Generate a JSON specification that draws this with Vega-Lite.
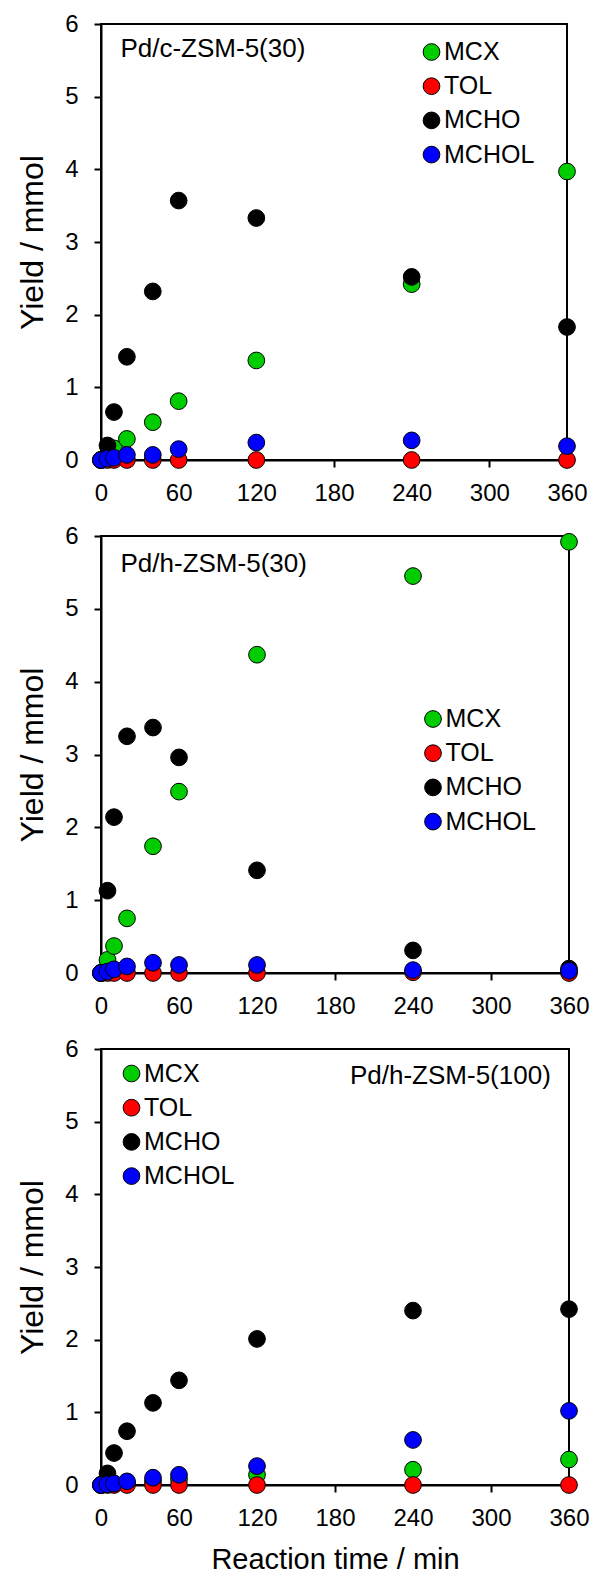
{
  "$schema": "https://vega.github.io/schema/vega-lite/v6.json",
  "padding": {"left": 15, "top": 11, "right": 4, "bottom": 4},
  "background": "white",
  "datasets": {
    "d": [
      {"panel": "A", "series": "MCX", "time": 0, "value": 0},
      {"panel": "A", "series": "MCX", "time": 5, "value": 0.05},
      {"panel": "A", "series": "MCX", "time": 10, "value": 0.16},
      {"panel": "A", "series": "MCX", "time": 20, "value": 0.29},
      {"panel": "A", "series": "MCX", "time": 40, "value": 0.52},
      {"panel": "A", "series": "MCX", "time": 60, "value": 0.81},
      {"panel": "A", "series": "MCX", "time": 120, "value": 1.37},
      {"panel": "A", "series": "MCX", "time": 240, "value": 2.42},
      {"panel": "A", "series": "MCX", "time": 360, "value": 3.97},
      {"panel": "A", "series": "TOL", "time": 0, "value": 0},
      {"panel": "A", "series": "TOL", "time": 5, "value": 0},
      {"panel": "A", "series": "TOL", "time": 10, "value": 0},
      {"panel": "A", "series": "TOL", "time": 20, "value": 0},
      {"panel": "A", "series": "TOL", "time": 40, "value": 0},
      {"panel": "A", "series": "TOL", "time": 60, "value": 0},
      {"panel": "A", "series": "TOL", "time": 120, "value": 0},
      {"panel": "A", "series": "TOL", "time": 240, "value": 0},
      {"panel": "A", "series": "TOL", "time": 360, "value": 0},
      {"panel": "A", "series": "MCHO", "time": 0, "value": 0},
      {"panel": "A", "series": "MCHO", "time": 5, "value": 0.2},
      {"panel": "A", "series": "MCHO", "time": 10, "value": 0.66},
      {"panel": "A", "series": "MCHO", "time": 20, "value": 1.42},
      {"panel": "A", "series": "MCHO", "time": 40, "value": 2.32},
      {"panel": "A", "series": "MCHO", "time": 60, "value": 3.57},
      {"panel": "A", "series": "MCHO", "time": 120, "value": 3.33},
      {"panel": "A", "series": "MCHO", "time": 240, "value": 2.52},
      {"panel": "A", "series": "MCHO", "time": 360, "value": 1.83},
      {"panel": "A", "series": "MCHOL", "time": 0, "value": 0},
      {"panel": "A", "series": "MCHOL", "time": 5, "value": 0.02},
      {"panel": "A", "series": "MCHOL", "time": 10, "value": 0.03},
      {"panel": "A", "series": "MCHOL", "time": 20, "value": 0.07},
      {"panel": "A", "series": "MCHOL", "time": 40, "value": 0.07},
      {"panel": "A", "series": "MCHOL", "time": 60, "value": 0.15},
      {"panel": "A", "series": "MCHOL", "time": 120, "value": 0.24},
      {"panel": "A", "series": "MCHOL", "time": 240, "value": 0.27},
      {"panel": "A", "series": "MCHOL", "time": 360, "value": 0.19},

      {"panel": "B", "series": "MCX", "time": 0, "value": 0},
      {"panel": "B", "series": "MCX", "time": 5, "value": 0.18},
      {"panel": "B", "series": "MCX", "time": 10, "value": 0.37},
      {"panel": "B", "series": "MCX", "time": 20, "value": 0.75},
      {"panel": "B", "series": "MCX", "time": 40, "value": 1.74},
      {"panel": "B", "series": "MCX", "time": 60, "value": 2.49},
      {"panel": "B", "series": "MCX", "time": 120, "value": 4.37},
      {"panel": "B", "series": "MCX", "time": 240, "value": 5.45},
      {"panel": "B", "series": "MCX", "time": 360, "value": 5.92},
      {"panel": "B", "series": "TOL", "time": 0, "value": 0},
      {"panel": "B", "series": "TOL", "time": 5, "value": 0},
      {"panel": "B", "series": "TOL", "time": 10, "value": 0},
      {"panel": "B", "series": "TOL", "time": 20, "value": 0},
      {"panel": "B", "series": "TOL", "time": 40, "value": 0},
      {"panel": "B", "series": "TOL", "time": 60, "value": 0},
      {"panel": "B", "series": "TOL", "time": 120, "value": 0},
      {"panel": "B", "series": "TOL", "time": 240, "value": 0.01},
      {"panel": "B", "series": "TOL", "time": 360, "value": 0},
      {"panel": "B", "series": "MCHO", "time": 0, "value": 0},
      {"panel": "B", "series": "MCHO", "time": 5, "value": 1.13},
      {"panel": "B", "series": "MCHO", "time": 10, "value": 2.14},
      {"panel": "B", "series": "MCHO", "time": 20, "value": 3.25},
      {"panel": "B", "series": "MCHO", "time": 40, "value": 3.37},
      {"panel": "B", "series": "MCHO", "time": 60, "value": 2.96},
      {"panel": "B", "series": "MCHO", "time": 120, "value": 1.41},
      {"panel": "B", "series": "MCHO", "time": 240, "value": 0.31},
      {"panel": "B", "series": "MCHO", "time": 360, "value": 0.06},
      {"panel": "B", "series": "MCHOL", "time": 0, "value": 0},
      {"panel": "B", "series": "MCHOL", "time": 5, "value": 0.02},
      {"panel": "B", "series": "MCHOL", "time": 10, "value": 0.05},
      {"panel": "B", "series": "MCHOL", "time": 20, "value": 0.09},
      {"panel": "B", "series": "MCHOL", "time": 40, "value": 0.14},
      {"panel": "B", "series": "MCHOL", "time": 60, "value": 0.11},
      {"panel": "B", "series": "MCHOL", "time": 120, "value": 0.11},
      {"panel": "B", "series": "MCHOL", "time": 240, "value": 0.04},
      {"panel": "B", "series": "MCHOL", "time": 360, "value": 0.03},

      {"panel": "C", "series": "MCX", "time": 0, "value": 0},
      {"panel": "C", "series": "MCX", "time": 5, "value": 0.01},
      {"panel": "C", "series": "MCX", "time": 10, "value": 0.02},
      {"panel": "C", "series": "MCX", "time": 20, "value": 0.03},
      {"panel": "C", "series": "MCX", "time": 40, "value": 0.05},
      {"panel": "C", "series": "MCX", "time": 60, "value": 0.08},
      {"panel": "C", "series": "MCX", "time": 120, "value": 0.14},
      {"panel": "C", "series": "MCX", "time": 240, "value": 0.21},
      {"panel": "C", "series": "MCX", "time": 360, "value": 0.35},
      {"panel": "C", "series": "TOL", "time": 0, "value": 0},
      {"panel": "C", "series": "TOL", "time": 5, "value": 0},
      {"panel": "C", "series": "TOL", "time": 10, "value": 0},
      {"panel": "C", "series": "TOL", "time": 20, "value": 0},
      {"panel": "C", "series": "TOL", "time": 40, "value": 0},
      {"panel": "C", "series": "TOL", "time": 60, "value": 0},
      {"panel": "C", "series": "TOL", "time": 120, "value": 0},
      {"panel": "C", "series": "TOL", "time": 240, "value": 0},
      {"panel": "C", "series": "TOL", "time": 360, "value": 0},
      {"panel": "C", "series": "MCHO", "time": 0, "value": 0},
      {"panel": "C", "series": "MCHO", "time": 5, "value": 0.16},
      {"panel": "C", "series": "MCHO", "time": 10, "value": 0.44},
      {"panel": "C", "series": "MCHO", "time": 20, "value": 0.74},
      {"panel": "C", "series": "MCHO", "time": 40, "value": 1.13},
      {"panel": "C", "series": "MCHO", "time": 60, "value": 1.44},
      {"panel": "C", "series": "MCHO", "time": 120, "value": 2.01},
      {"panel": "C", "series": "MCHO", "time": 240, "value": 2.4},
      {"panel": "C", "series": "MCHO", "time": 360, "value": 2.42},
      {"panel": "C", "series": "MCHOL", "time": 0, "value": 0},
      {"panel": "C", "series": "MCHOL", "time": 5, "value": 0.01},
      {"panel": "C", "series": "MCHOL", "time": 10, "value": 0.02},
      {"panel": "C", "series": "MCHOL", "time": 20, "value": 0.05},
      {"panel": "C", "series": "MCHOL", "time": 40, "value": 0.1},
      {"panel": "C", "series": "MCHOL", "time": 60, "value": 0.14},
      {"panel": "C", "series": "MCHOL", "time": 120, "value": 0.26},
      {"panel": "C", "series": "MCHOL", "time": 240, "value": 0.62},
      {"panel": "C", "series": "MCHOL", "time": 360, "value": 1.02}
    ]
  },
  "config": {
    "font": "Liberation Sans",
    "view": {"stroke": "black", "strokeWidth": 2},
    "axis": {
      "grid": false,
      "domainColor": "black",
      "domainWidth": 2,
      "tickColor": "black",
      "tickWidth": 2,
      "tickSize": 7,
      "labelColor": "black",
      "titleColor": "black",
      "labelFontSize": 24,
      "labelFont": "Liberation Sans",
      "titleFont": "Liberation Sans",
      "titleFontWeight": "normal",
      "labelFlush": false,
      "labelOverlap": false
    },
    "legend": {
      "title": null,
      "labelFontSize": 25,
      "labelFont": "Liberation Sans",
      "labelColor": "black",
      "symbolSize": 290,
      "symbolType": "circle",
      "symbolStrokeColor": "black",
      "symbolStrokeWidth": 1,
      "symbolOpacity": 1,
      "rowPadding": 8.2,
      "labelOffset": 0,
      "padding": 0
    }
  },
  "spacing": 76,
  "bounds": "flush",
  "resolve": {
    "scale": {"color": "independent", "size": "independent", "x": "independent", "y": "independent"},
    "legend": {"color": "independent", "size": "independent"}
  },
  "vconcat": [
    {
      "width": 466,
      "height": 436,
      "layer": [
        {
          "data": {"name": "d"},
          "transform": [{"filter": "datum.panel == 'A'"}],
          "mark": {"type": "circle", "stroke": "black", "strokeWidth": 1, "opacity": 1},
          "encoding": {
            "x": {"field": "time", "type": "quantitative", "scale": {"domain": [0, 360], "nice": false},
                  "axis": {"values": [0, 60, 120, 180, 240, 300, 360], "title": null, "labelPadding": 14}},
            "y": {"field": "value", "type": "quantitative", "scale": {"domain": [0, 6], "nice": false},
                  "axis": {"values": [0, 1, 2, 3, 4, 5, 6], "format": "d", "title": "Yield / mmol", "titleFontSize": 32, "labelPadding": 16, "titlePadding": 15}},
            "color": {"field": "series", "type": "nominal",
                      "scale": {"domain": ["MCX", "TOL", "MCHO", "MCHOL"], "range": ["#00cc00", "#ff0000", "#000000", "#0000ff"]},
                      "legend": {"orient": "none", "legendX": 318, "legendY": 15.5}},
            "size": {"field": "series", "type": "nominal",
                     "scale": {"domain": ["MCX", "TOL", "MCHO", "MCHOL"], "range": [280, 280, 350, 350]},
                     "legend": null}
          }
        },
        {
          "data": {"values": [{"label": "Pd/c-ZSM-5(30)"}]},
          "mark": {"type": "text", "align": "left", "baseline": "alphabetic", "fontSize": 26, "color": "black"},
          "encoding": {
            "text": {"field": "label"},
            "x": {"datum": 15, "type": "quantitative"},
            "y": {"datum": 5.54, "type": "quantitative"}
          }
        }
      ]
    },
    {
      "width": 468,
      "height": 437,
      "layer": [
        {
          "data": {"name": "d"},
          "transform": [{"filter": "datum.panel == 'B'"}],
          "mark": {"type": "circle", "stroke": "black", "strokeWidth": 1, "opacity": 1},
          "encoding": {
            "x": {"field": "time", "type": "quantitative", "scale": {"domain": [0, 360], "nice": false},
                  "axis": {"values": [0, 60, 120, 180, 240, 300, 360], "title": null, "labelPadding": 14}},
            "y": {"field": "value", "type": "quantitative", "scale": {"domain": [0, 6], "nice": false},
                  "axis": {"values": [0, 1, 2, 3, 4, 5, 6], "format": "d", "title": "Yield / mmol", "titleFontSize": 32, "labelPadding": 16, "titlePadding": 15}},
            "color": {"field": "series", "type": "nominal",
                      "scale": {"domain": ["MCX", "TOL", "MCHO", "MCHOL"], "range": ["#00cc00", "#ff0000", "#000000", "#0000ff"]},
                      "legend": {"orient": "none", "legendX": 319.5, "legendY": 170.5}},
            "size": {"field": "series", "type": "nominal",
                     "scale": {"domain": ["MCX", "TOL", "MCHO", "MCHOL"], "range": [280, 280, 350, 350]},
                     "legend": null}
          }
        },
        {
          "data": {"values": [{"label": "Pd/h-ZSM-5(30)"}]},
          "mark": {"type": "text", "align": "left", "baseline": "alphabetic", "fontSize": 26, "color": "black"},
          "encoding": {
            "text": {"field": "label"},
            "x": {"datum": 15, "type": "quantitative"},
            "y": {"datum": 5.51, "type": "quantitative"}
          }
        }
      ]
    },
    {
      "width": 468,
      "height": 436,
      "layer": [
        {
          "data": {"name": "d"},
          "transform": [{"filter": "datum.panel == 'C'"}],
          "mark": {"type": "circle", "stroke": "black", "strokeWidth": 1, "opacity": 1},
          "encoding": {
            "x": {"field": "time", "type": "quantitative", "scale": {"domain": [0, 360], "nice": false},
                  "axis": {"values": [0, 60, 120, 180, 240, 300, 360], "title": "Reaction time / min", "titleFontSize": 29, "labelPadding": 14, "titlePadding": 15}},
            "y": {"field": "value", "type": "quantitative", "scale": {"domain": [0, 6], "nice": false},
                  "axis": {"values": [0, 1, 2, 3, 4, 5, 6], "format": "d", "title": "Yield / mmol", "titleFontSize": 32, "labelPadding": 16, "titlePadding": 15}},
            "color": {"field": "series", "type": "nominal",
                      "scale": {"domain": ["MCX", "TOL", "MCHO", "MCHOL"], "range": ["#00cc00", "#ff0000", "#000000", "#0000ff"]},
                      "legend": {"orient": "none", "legendX": 18, "legendY": 12}},
            "size": {"field": "series", "type": "nominal",
                     "scale": {"domain": ["MCX", "TOL", "MCHO", "MCHOL"], "range": [280, 280, 350, 350]},
                     "legend": null}
          }
        },
        {
          "data": {"values": [{"label": "Pd/h-ZSM-5(100)"}]},
          "mark": {"type": "text", "align": "right", "baseline": "alphabetic", "fontSize": 26, "color": "black"},
          "encoding": {
            "text": {"field": "label"},
            "x": {"datum": 346, "type": "quantitative"},
            "y": {"datum": 5.52, "type": "quantitative"}
          }
        }
      ]
    }
  ]
}
